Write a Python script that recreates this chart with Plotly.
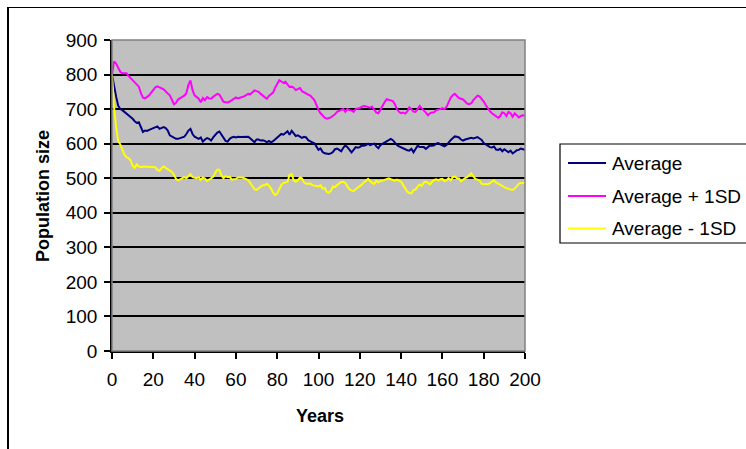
import plotly.graph_objects as go

# Simulated population: mean and +/- one standard deviation, years 0..200
years = list(range(0, 201))

average = [
    800, 762, 736, 710, 700, 697, 692, 688, 683, 677,
    672, 665, 660, 662, 650, 634, 638, 637, 640, 643,
    645, 648, 650, 643, 646, 648, 645, 638, 624, 620,
    617, 614, 614, 616, 618, 620, 628, 638, 643, 628,
    620, 618, 614, 618, 606, 612, 616, 614, 609, 618,
    626, 632, 635, 626, 616, 608, 606, 614, 618, 620,
    618, 620, 619, 619, 620, 621, 620, 615, 610, 604,
    612, 612, 609, 610, 608, 604, 608, 604, 607, 612,
    617, 624, 628, 626, 630, 636, 626, 637, 630, 622,
    624, 620, 617, 620, 618, 610, 606, 604, 601, 592,
    582, 586, 576, 572, 570, 570, 572, 576, 584, 586,
    582, 578, 588, 595, 590, 582, 575, 582, 590, 588,
    590, 595, 594, 596, 600, 596, 598, 600, 592, 587,
    596, 600, 603, 608, 611, 614, 610, 602, 596, 592,
    589, 586, 584, 581, 580, 585, 575, 586, 594, 590,
    591, 590, 585, 590, 595, 594, 595, 600, 602, 598,
    595, 592, 596, 604, 610, 616, 621, 620, 618, 612,
    609, 612, 614, 616, 617, 615, 617, 619, 615, 611,
    602, 598, 594, 590, 589, 592, 583, 582, 585, 578,
    584, 580, 575, 580, 572, 576, 581, 582, 586, 584,
    582,
]

average_plus_sd = [
    800, 838, 832, 820, 808, 804, 803, 804, 796, 790,
    784, 778, 772, 765, 746, 733, 731, 736, 740, 748,
    756, 763, 766, 764, 760, 757, 750, 745, 740, 726,
    714, 718, 728, 732, 736, 739, 746, 770, 783, 755,
    740, 734, 730, 720, 732, 726, 735, 731, 730, 736,
    740, 744, 742, 730, 721, 720, 719, 722, 726, 729,
    734, 731, 734, 735, 737, 740, 744, 743, 749, 754,
    752, 750, 744, 740, 734, 730, 738, 742, 748, 762,
    772, 784, 780, 776, 779, 770, 764, 765, 762, 755,
    758, 761, 752, 748, 745, 742, 739, 733, 726, 712,
    697, 688, 681, 675, 672, 673, 676, 681, 685, 692,
    694, 698, 700, 692, 700, 697, 696, 692, 700, 702,
    703, 707, 709, 708, 706, 704, 707, 700, 690, 688,
    700, 712, 720, 729, 727, 726, 723, 714, 700, 692,
    688, 690, 687, 693, 705, 700, 693, 692, 700, 709,
    702, 697, 690, 682, 688, 690, 691, 697, 698, 700,
    703, 700, 706, 720, 733, 740, 744, 738, 732, 730,
    728, 722, 716, 714, 717, 726, 734, 739, 737, 731,
    722, 712, 702, 694, 688, 683, 678, 675, 680, 691,
    688, 680, 692, 688, 678, 688, 682, 676, 680, 682,
    681,
]

average_minus_sd = [
    800, 705, 648, 608, 598, 585, 568, 561, 558, 552,
    536, 530, 540, 534, 532, 534, 534, 533, 534, 534,
    534, 532, 524, 521, 530, 534, 530, 526, 524, 518,
    510, 498, 494, 497, 502, 503, 500, 506, 512, 503,
    502, 500, 503, 495, 502, 499, 492, 496, 502, 504,
    516, 525, 524, 508, 500, 506, 503, 504, 496, 497,
    498, 502, 503, 502, 500, 497, 494, 486, 476, 468,
    466, 470, 476, 480, 480, 484, 478, 470, 458, 451,
    456, 468, 480, 486, 489, 490, 510, 512, 494, 490,
    494, 502, 500, 488, 484, 484, 485, 480, 478, 476,
    476, 480, 470, 472, 460, 458, 464, 476, 474, 480,
    484, 489, 490, 486, 476, 468, 464, 463, 468, 472,
    476, 482, 488, 494, 498, 492, 486, 484, 493, 488,
    492, 493, 496, 498, 500, 497, 495, 493, 496, 494,
    490, 480, 471, 461, 457, 456, 466, 467, 476, 482,
    478, 488, 490, 486, 482, 490, 495, 497, 494, 497,
    498, 492, 494, 500, 494, 503, 505, 500, 500, 491,
    496, 500, 503, 510, 514, 505, 498, 496, 494, 484,
    482, 484, 482, 486, 490, 494, 488, 484, 481, 478,
    474, 471, 469, 466, 466, 470, 476, 484, 486, 487,
    486,
]

series_names = ["Average", "Average + 1SD", "Average - 1SD"]
series_colors = ["#000080", "#FF00FF", "#FFFF00"]
x_ticks = list(range(0, 201, 20))
y_ticks = list(range(0, 901, 100))

FONT = "Liberation Sans, Arial, sans-serif"

fig = go.Figure()
for name, values, color in zip(series_names,
                               [average, average_plus_sd, average_minus_sd],
                               series_colors):
    fig.add_trace(go.Scatter(
        x=years, y=values, name=name, mode="lines",
        line=dict(color=color, width=2), showlegend=False,
    ))

# Pixel geometry of the plotting rectangle inside the 746x449 canvas
W, H = 746, 449
L, R, T, B = 112, 525, 40, 351
pw, ph = R - L, B - T


def px(xp):
    return (xp - L) / pw


def py(yp):
    return (B - yp) / ph


shapes = [
    # outer chart frame: top and left edges (the rest runs off the canvas)
    dict(type="rect", xref="paper", yref="paper",
         x0=px(8), x1=px(746), y0=py(8), y1=py(7),
         line=dict(width=0), fillcolor="black", layer="above"),
    dict(type="rect", xref="paper", yref="paper",
         x0=px(7), x1=px(9), y0=py(7), y1=py(449),
         line=dict(width=0), fillcolor="black", layer="above"),
    # plot-area border (top / right in grey)
    dict(type="rect", xref="paper", yref="paper", x0=0, x1=1, y0=0, y1=1,
         line=dict(color="#808080", width=1.5), fillcolor="rgba(0,0,0,0)", layer="above"),
    # legend frame
    dict(type="rect", xref="paper", yref="paper",
         x0=px(560), x1=px(770), y0=py(144), y1=py(243),
         line=dict(color="black", width=1.2), fillcolor="white"),
]

annotations = []
legend_rows = [163, 196, 228.5]
for name, color, yrow in zip(series_names, series_colors, legend_rows):
    shapes.append(dict(type="line", xref="paper", yref="paper",
                       x0=px(568), x1=px(606), y0=py(yrow), y1=py(yrow),
                       line=dict(color=color, width=2)))
    annotations.append(dict(xref="paper", yref="paper", x=px(610), y=py(yrow),
                            xanchor="left", yanchor="middle", showarrow=False,
                            text=name, font=dict(family=FONT, size=19, color="black")))

annotations.append(dict(xref="paper", yref="paper", x=px(320), y=py(416),
                        xanchor="center", yanchor="middle", showarrow=False,
                        text="<b>Years</b>", font=dict(family=FONT, size=18, color="black")))
annotations.append(dict(xref="paper", yref="paper", x=px(43), y=py(196),
                        xanchor="center", yanchor="middle", showarrow=False, textangle=-90,
                        text="<b>Population size</b>", font=dict(family=FONT, size=18, color="black")))

fig.update_layout(
    width=W, height=H,
    margin=dict(l=L, r=W - R, t=T, b=H - B, pad=0),
    paper_bgcolor="white", plot_bgcolor="#C0C0C0",
    font=dict(family=FONT, size=19, color="black"),
    shapes=shapes, annotations=annotations,
    showlegend=False,
)
fig.update_xaxes(
    range=[0, 200], tickvals=x_ticks, ticks="outside", ticklen=6, tickwidth=1.5,
    tickcolor="black", showline=True, linecolor="black", linewidth=1.5,
    showgrid=False, zeroline=False, tickfont=dict(size=19), ticklabelstandoff=4,
)
fig.update_yaxes(
    range=[0, 900], tickvals=y_ticks, ticks="outside", ticklen=6, tickwidth=1.5,
    tickcolor="black", showline=True, linecolor="black", linewidth=1.5,
    showgrid=True, gridcolor="black", gridwidth=1.5, zeroline=False,
    tickfont=dict(size=19), ticklabelstandoff=3,
)

fig.write_html("out.html")
